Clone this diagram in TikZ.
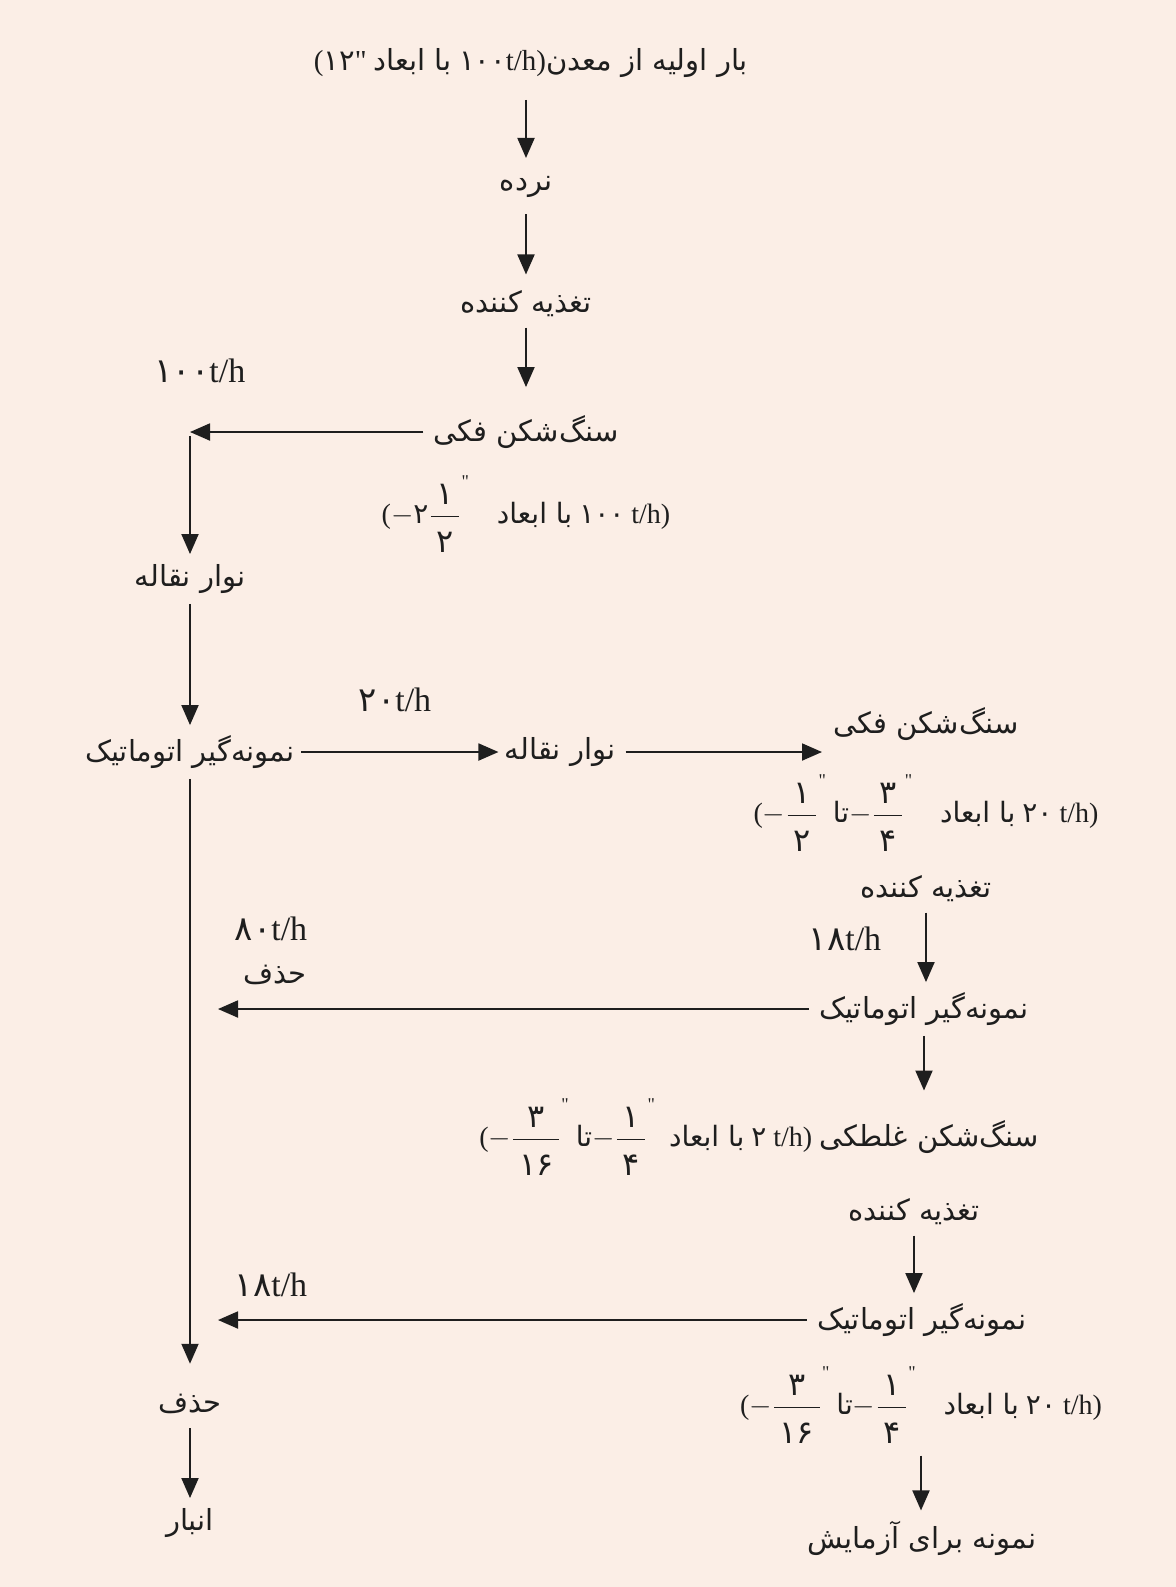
\documentclass[tikz,border=0pt]{standalone}
\usepackage{fontspec}
\usepackage{amsmath}
\setmainfont{Liberation Serif}
\newfontfamily\arabicfont[Script=Arabic]{DejaVu Sans}
\newfontfamily\quotefont[Ligatures=TeXOff]{Liberation Serif}
\TeXXeTstate=1
\usetikzlibrary{arrows.meta, positioning, calc}
\definecolor{paper}{RGB}{251,238,230}
\definecolor{ink}{RGB}{30,30,30}

\newcommand{\fa}[1]{{\arabicfont\beginR #1\endR}}
\newcommand{\fd}[1]{{\arabicfont #1}}
\newcommand{\qq}{{\quotefont"}}
\newcommand{\fr}[2]{$\genfrac{}{}{0.8pt}{0}{\text{\hspace{0.2em}\fd{\fontsize{16}{18}\selectfont#1}\hspace{0.2em}\rule[-3pt]{0pt}{3pt}}}{\text{\hspace{0.2em}\fd{\fontsize{16}{18}\selectfont#2}\hspace{0.2em}\rule{0pt}{15pt}}}$}
\newcommand{\inch}{\raisebox{2.8ex}{\small\qq}}

\begin{document}
\begin{tikzpicture}[x=0.5pt, y=-0.5pt, ink,
  lbl/.style={font=\fontsize{14.5}{18}\selectfont, inner sep=2pt},
  rate/.style={font=\fontsize{17}{20}\selectfont, inner sep=1pt},
  dims/.style={font=\fontsize{14}{17}\selectfont, inner sep=1pt},
  arr/.style={line width=0.95pt, shorten <=3pt, shorten >=3pt, -{Triangle[length=10pt, width=8.5pt]}}
]
  \fill[paper] (0,0) rectangle (1176,1587);

  % Feed line
  \node[dims, font=\fontsize{14.5}{18}\selectfont] (ore) at (531,63) {(\fd{۱۲}\qq\ \fa{با ابعاد}\ \fd{۱۰۰}t/h)\fa{بار اولیه از معدن}};
  \node[lbl] (grz) at (526,187) {\fa{نرده}};
  \node[lbl] (fdr1) at (526,304) {\fa{تغذیه کننده}};
  \node[lbl] (jaw1) at (526,432) {\fa{سنگ‌شکن فکی}};
  \node[dims] (jaw1sz) at (526,514) {($-$\fd{۲}\fr{۱}{۲}\inch\quad\fa{با ابعاد}\ \fd{۱۰۰}\ t/h)};
  \node[rate] (r100) at (200,371) {\fd{۱۰۰}t/h};
  \coordinate (c1) at (190,432);

  % Left column
  \node[lbl] (conv1) at (190,579) {\fa{نوار نقاله}};
  \node[lbl] (samp1) at (190,752) {\fa{نمونه‌گیر اتوماتیک}};
  \node[lbl] (del2) at (190,1404) {\fa{حذف}};
  \node[lbl] (store) at (190,1523) {\fa{انبار}};

  % First split
  \node[rate] (r20) at (395,700) {\fd{۲۰}t/h};
  \node[lbl] (conv2) at (560,752) {\fa{نوار نقاله}};
  \coordinate (c2) at (822,752);
  \node[lbl] (jaw2) at (926,724) {\fa{سنگ‌شکن فکی}};
  \node[dims] (jaw2sz) at (926,813) {($-$\fr{۱}{۲}\inch\ \fa{تا}$-$\fr{۳}{۴}\inch\quad\fa{با ابعاد}\ \fd{۲۰}\ t/h)};
  \node[lbl] (fdr2) at (926,889) {\fa{تغذیه کننده}};
  \node[rate] (r18a) at (845,939) {\fd{۱۸}t/h};
  \node[lbl] (samp2) at (924,1009) {\fa{نمونه‌گیر اتوماتیک}};
  \node[rate] (r80) at (271,929) {\fd{۸۰}t/h};
  \node[lbl] (del1) at (275,975) {\fa{حذف}};
  \coordinate (c3) at (218,1009);

  % Second split
  \node[dims] (roll) at (759,1137) {($-$\fr{۳}{۱۶}\inch\ \fa{تا}$-$\fr{۱}{۴}\inch\ \ \fa{با ابعاد}\ \fd{۲}\ t/h)\ {\fontsize{14.5}{18}\selectfont\fa{سنگ‌شکن غلطکی}}};
  \node[lbl] (fdr3) at (914,1212) {\fa{تغذیه کننده}};
  \node[rate] (r18b) at (271,1285) {\fd{۱۸}t/h};
  \node[lbl] (samp3) at (922,1320) {\fa{نمونه‌گیر اتوماتیک}};
  \coordinate (c4) at (218,1320);
  \node[dims] (rollsz) at (921,1405) {($-$\fr{۳}{۱۶}\inch\ \fa{تا}$-$\fr{۱}{۴}\inch\quad\fa{با ابعاد}\ \fd{۲۰}\ t/h)};
  \node[lbl] (test) at (922,1538) {\fa{نمونه برای آزمایش}};

  % Flow
  \draw[arr, shorten <=10pt, shorten >=7pt] (grz |- ore.south) -- (grz);
  \draw[arr, shorten <=6pt, shorten >=6pt] (grz) -- (fdr1);
  \draw[arr, shorten >=12pt] (fdr1) -- (jaw1);
  \draw[arr, shorten >=0pt] (jaw1) -- (c1);
  \draw[arr, shorten <=2pt] (c1) -- (conv1);
  \draw[arr] (conv1) -- (samp1);
  \draw[arr, shorten <=1pt, shorten >=1pt] (samp1) -- (conv2);
  \draw[arr, shorten >=0pt] (conv2) -- (c2);
  \draw[arr] (fdr2) -- (fdr2 |- samp2.north);
  \draw[arr, shorten >=0pt] (samp2) -- (c3);
  \draw[arr] (samp2) -- (samp2 |- roll.north);
  \draw[arr] (fdr3) -- (fdr3 |- samp3.north);
  \draw[arr, shorten >=0pt] (samp3) -- (c4);
  \draw[arr, shorten <=5pt] (rollsz) -- (rollsz |- test.north);
  \draw[arr, shorten >=13pt] (samp1) -- (del2);
  \draw[arr, shorten <=5pt] (del2) -- (store);
\end{tikzpicture}
\end{document}
